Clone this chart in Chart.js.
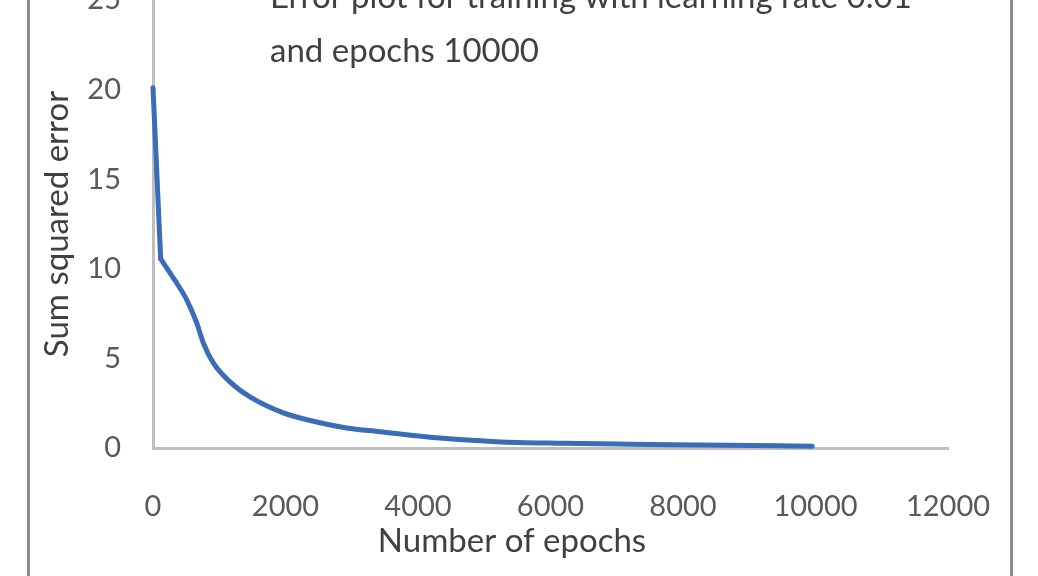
<!DOCTYPE html>
<html>
<head>
<meta charset="utf-8">
<title>Error plot</title>
<script src="https://cdn.jsdelivr.net/npm/chart.js@4.4.0/dist/chart.umd.min.js"></script>
<style>
  html, body { margin: 0; padding: 0; background: #fff; overflow: hidden; }
  body { width: 1038px; height: 576px; position: relative; }
  #wrap { position: absolute; left: 0; top: -50px; width: 1038px; height: 660px; }
  #frame { position: absolute; left: 27px; top: -10px; width: 986px; height: 620px;
           border: 3px solid #8c8c8c; box-sizing: border-box; pointer-events: none; }
</style>
</head>
<body>
<div id="wrap"><canvas id="chart"></canvas></div>
<div id="frame"></div>
<script>
// values
const epochs = [0, 116, 332, 509, 660, 759, 910, 1162, 1464, 1967, 2470, 2923, 3426, 4181, 5188, 6190, 7200, 8256, 9950];
const sumSquaredError = [20.1, 10.55, 9.35, 8.27, 6.98, 5.87, 4.75, 3.69, 2.85, 1.96, 1.45, 1.12, 0.91, 0.6, 0.35, 0.26, 0.21, 0.17, 0.1];
const xTicks = [0, 2000, 4000, 6000, 8000, 10000, 12000];
const yTicks = [0, 5, 10, 15, 20, 25];
const titleLines = ['Error plot for training with learning rate 0.01', 'and epochs 10000'];
const xTitle = 'Number of epochs';
const yTitle = 'Sum squared error';

const FONT = 'Lato, "Open Sans", sans-serif';
const SHIFT = 50; // canvas sits 50px above the page top
const LINE = '#3b6cb7';

const points = epochs.map((e, i) => ({ x: e, y: sumSquaredError[i] }));

// Excel-style title inside the plot area, and the x axis title off-centre like the original
const textLayer = {
  id: 'textLayer',
  afterDraw(chart) {
    const ctx = chart.ctx;
    ctx.save();
    ctx.font = '33px ' + FONT;
    ctx.fillStyle = '#404040';
    ctx.textBaseline = 'alphabetic';
    ctx.textAlign = 'left';
    titleLines.forEach((line, i) => ctx.fillText(line, 270, SHIFT + 8 + i * 54));
    ctx.textAlign = 'center';
    ctx.fillText(xTitle, 512, SHIFT + 552);
    ctx.restore();
  }
};

// the first drop is a straight segment, the rest is a smooth curve
const lineStyle = { borderColor: LINE, borderWidth: 5, borderJoinStyle: 'round', borderCapStyle: 'round',
                    pointRadius: 0, fill: false, clip: false };

const ctx = document.getElementById('chart').getContext('2d');
new Chart(ctx, {
  type: 'line',
  data: {
    datasets: [
      Object.assign({ label: yTitle, data: points.slice(0, 2), tension: 0 }, lineStyle),
      Object.assign({ label: yTitle, data: points.slice(1), cubicInterpolationMode: 'monotone' }, lineStyle)
    ]
  },
  options: {
    responsive: true,
    maintainAspectRatio: false,
    devicePixelRatio: 1,
    animation: false,
    layout: { padding: { top: SHIFT, left: 38, right: 90, bottom: 50 } },
    plugins: {
      legend: { display: false },
      tooltip: { enabled: false }
    },
    scales: {
      x: {
        type: 'linear',
        min: xTicks[0],
        max: xTicks[xTicks.length - 1],
        afterBuildTicks: s => { s.ticks = xTicks.map(v => ({ value: v })); },
        afterFit: s => { s.height = 112; },
        grid: { display: false, drawTicks: false },
        border: { display: true, color: '#bfbfbf', width: 3 },
        ticks: { color: '#595959', font: { family: FONT, size: 29 }, padding: 41, maxRotation: 0,
                 callback: v => String(v) }
      },
      y: {
        min: yTicks[0],
        max: yTicks[yTicks.length - 1],
        afterBuildTicks: s => { s.ticks = yTicks.map(v => ({ value: v })); },
        afterFit: s => { s.width = 115; },
        grid: { display: false, drawTicks: false },
        border: { display: true, color: '#bfbfbf', width: 3 },
        ticks: { color: '#595959', font: { family: FONT, size: 29 }, padding: 32,
                 callback: v => String(v) },
        title: { display: true, text: yTitle, color: '#404040',
                 font: { family: FONT, size: 33 }, padding: 0 }
      }
    }
  },
  plugins: [textLayer]
});
</script>
</body>
</html>
